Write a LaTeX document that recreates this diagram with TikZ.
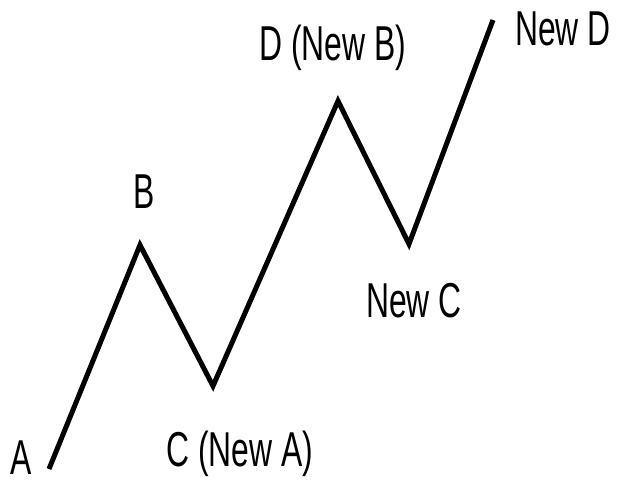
\documentclass[tikz,border=0pt]{standalone}
\usepackage{fontspec}
\newfontfamily\labfont[FakeStretch=0.65]{Liberation Sans}
\begin{document}
\begin{tikzpicture}[x=1pt,y=-1pt,
  wave/.style={line width=5pt,line join=miter,black},
  lab/.style={font=\labfont\fontsize{49}{52}\selectfont,inner sep=0pt,anchor=base,text depth=0pt}]
\useasboundingbox (0,0) rectangle (619,485);
\coordinate (pA) at (49,469);
\coordinate (pB) at (140,245);
\coordinate (pC) at (213,386);
\coordinate (pD) at (338,101);
\coordinate (pNC) at (409,244);
\coordinate (pND) at (493,20);
\draw[wave] (pA) -- (pB) -- (pC) -- (pD) -- (pNC) -- (pND);
\node[lab] (lA) at (21,474) {A};
\node[lab] (lB) at (144,208) {B};
\node[lab] (lC) at (240,466) {C (New A)};
\node[lab] (lD) at (333,60) {D (New B)};
\node[lab] (lNC) at (414,317) {New C};
\node[lab] (lND) at (563,45) {New D};
\end{tikzpicture}
\end{document}
